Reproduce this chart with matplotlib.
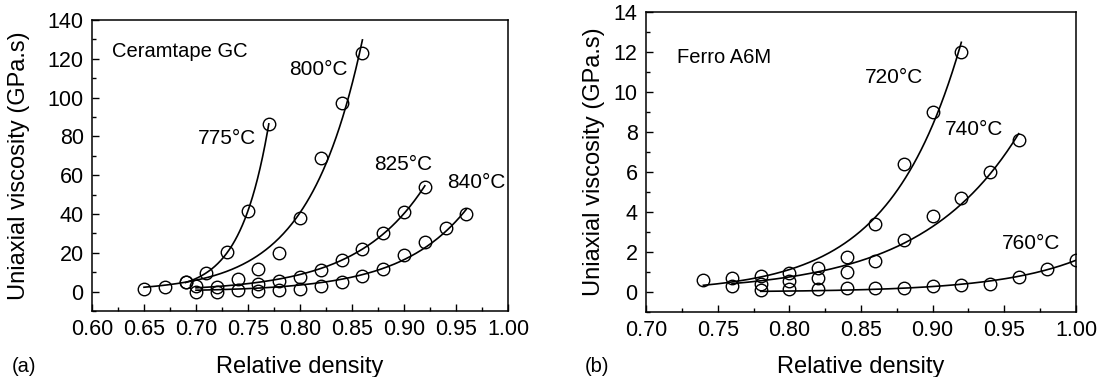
import numpy as np
import matplotlib
matplotlib.use("Agg")
import matplotlib.pyplot as plt
from matplotlib.ticker import MultipleLocator, FormatStrFormatter

plt.rcParams['font.family'] = ['Liberation Sans', 'DejaVu Sans']

# (a) Ceramtape GC
d_775 = [0.69, 0.71, 0.73, 0.75, 0.77]
v_775 = [5.0, 9.5, 20.3, 41.5, 86.5]
d_800 = [0.65, 0.67, 0.69, 0.76, 0.78, 0.80, 0.82, 0.84, 0.86]
v_800 = [1.5, 2.3, 5.0, 11.7, 20.0, 38.0, 69.0, 97.0, 123.0]
d_825 = [0.70, 0.72, 0.74, 0.76, 0.78, 0.80, 0.82, 0.84, 0.86, 0.88, 0.90, 0.92]
v_825 = [2.8, 2.2, 6.5, 4.0, 5.7, 7.4, 11.2, 16.5, 22.0, 30.0, 41.0, 54.0]
d_840 = [0.70, 0.72, 0.74, 0.76, 0.78, 0.80, 0.82, 0.84, 0.86, 0.88, 0.90, 0.92, 0.94, 0.96]
v_840 = [0.0, 0.0, 0.9, 0.5, 0.9, 1.4, 3.1, 4.8, 7.9, 11.4, 19.0, 25.5, 32.7, 39.8]

# (b) Ferro A6M
d_720 = [0.74, 0.76, 0.78, 0.80, 0.82, 0.84, 0.86, 0.88, 0.90, 0.92]
v_720 = [0.6, 0.7, 0.8, 0.96, 1.2, 1.76, 3.4, 6.4, 9.0, 12.0]
d_740 = [0.76, 0.78, 0.80, 0.82, 0.84, 0.86, 0.88, 0.90, 0.92, 0.94, 0.96]
v_740 = [0.3, 0.42, 0.54, 0.7, 1.0, 1.55, 2.6, 3.8, 4.7, 6.0, 7.6]
d_760 = [0.78, 0.80, 0.82, 0.84, 0.86, 0.88, 0.90, 0.92, 0.94, 0.96, 0.98, 1.00]
v_760 = [0.08, 0.14, 0.14, 0.2, 0.2, 0.2, 0.3, 0.34, 0.42, 0.75, 1.17, 1.6]

labels_a = ['775°C', '800°C', '825°C', '840°C']
label_pos_a = [(0.7016, 78.8), (0.790, 114.6), (0.871, 65.3), (0.941, 56.0)]
labels_b = ['720°C', '740°C', '760°C']
label_pos_b = [(0.853, 10.7), (0.9087, 8.1), (0.948, 2.44)]


def exp_fit(d, v):
    # least squares fit of v = a*exp(b*(d - d_max))
    d = np.asarray(d)
    v = np.asarray(v)
    best = None
    for b in np.linspace(1, 80, 4000):
        e = np.exp(b * (d - d.max()))
        a = (v @ e) / (e @ e)
        r = ((v - a * e) ** 2).sum()
        if best is None or r < best[0]:
            best = (r, a, b)
    xs = np.linspace(d.min(), d.max(), 200)
    return xs, best[1] * np.exp(best[2] * (xs - d.max()))


def draw(ax, series):
    for d, v in series:
        xs, ys = exp_fit(d, v)
        ax.plot(xs, ys, color='black', lw=1.2)
        ax.plot(d, v, 'o', mfc='none', mec='black', ms=9, mew=1.0)


def style(ax):
    ax.tick_params(which='both', direction='in', top=False, right=False,
                   labelsize=15.5, pad=6, width=1.0)
    ax.tick_params(which='major', length=5)
    ax.tick_params(which='minor', length=3)
    for s in ax.spines.values():
        s.set_linewidth(1.1)


fig = plt.figure(figsize=(11.03, 3.77), dpi=100)

ax1 = fig.add_axes([0.0834, 0.1751, 0.3772, 0.7719])
draw(ax1, [(d_775, v_775), (d_800, v_800), (d_825, v_825), (d_840, v_840)])
ax1.set_xlim(0.60, 1.00)
ax1.set_ylim(-10, 140)
ax1.xaxis.set_major_locator(MultipleLocator(0.05))
ax1.xaxis.set_minor_locator(MultipleLocator(0.025))
ax1.xaxis.set_major_formatter(FormatStrFormatter('%.2f'))
ax1.yaxis.set_major_locator(MultipleLocator(20))
ax1.yaxis.set_minor_locator(MultipleLocator(10))
style(ax1)
ax1.set_xlabel('Relative density', fontsize=17)
ax1.xaxis.set_label_coords(0.5, -0.155)
ax1.set_ylabel('Uniaxial viscosity (GPa.s)', fontsize=17)
ax1.yaxis.set_label_coords(-0.149, 0.5)
ax1.text(0.619, 123.5, 'Ceramtape GC', fontsize=14.5, va='center')
for t, (x, y) in zip(labels_a, label_pos_a):
    ax1.text(x, y, t, fontsize=15, va='center')

ax2 = fig.add_axes([0.5857, 0.1724, 0.3898, 0.7958])
draw(ax2, [(d_720, v_720), (d_740, v_740), (d_760, v_760)])
ax2.set_xlim(0.70, 1.00)
ax2.set_ylim(-1, 14)
ax2.xaxis.set_major_locator(MultipleLocator(0.05))
ax2.xaxis.set_minor_locator(MultipleLocator(0.025))
ax2.xaxis.set_major_formatter(FormatStrFormatter('%.2f'))
ax2.yaxis.set_major_locator(MultipleLocator(2))
ax2.yaxis.set_minor_locator(MultipleLocator(1))
style(ax2)
ax2.set_xlabel('Relative density', fontsize=17)
ax2.xaxis.set_label_coords(0.5, -0.147)
ax2.set_ylabel('Uniaxial viscosity (GPa.s)', fontsize=17)
ax2.yaxis.set_label_coords(-0.095, 0.5)
ax2.text(0.7214, 11.7, 'Ferro A6M', fontsize=14.5, va='center')
for t, (x, y) in zip(labels_b, label_pos_b):
    ax2.text(x, y, t, fontsize=15, va='center')

fig.text(12 / 1103, 1 - 366 / 377, '(a)', fontsize=14.5, va='center')
fig.text(585 / 1103, 1 - 366 / 377, '(b)', fontsize=14.5, va='center')

fig.savefig('out.png', dpi=100)
